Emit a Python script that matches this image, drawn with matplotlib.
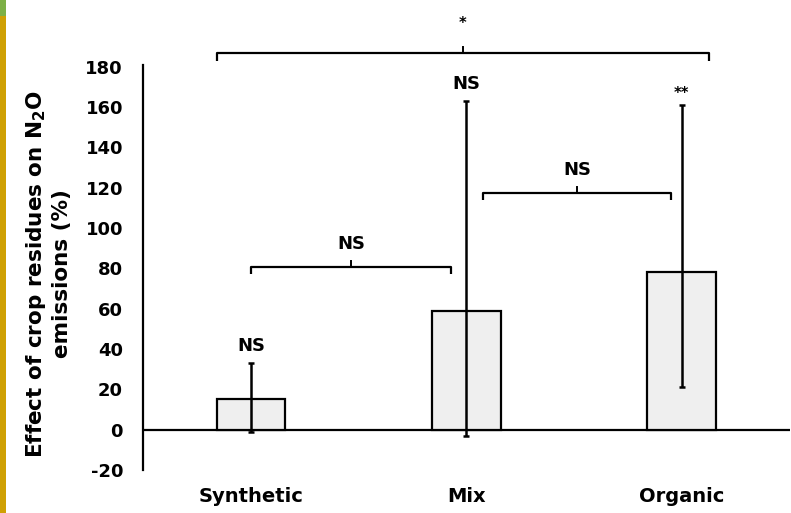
import matplotlib
matplotlib.use("Agg")
import matplotlib.pyplot as plt
from matplotlib.patches import Rectangle

plt.rcParams['font.family'] = ['DejaVu Sans']
plt.rcParams['mathtext.fontset'] = 'dejavusans'

categories = ["Synthetic", "Mix", "Organic"]
means = [15, 59, 78]
ci_low = [-1, -3, 21]
ci_high = [33, 163, 161]
bar_labels = ["NS", "NS", "**"]
yticks = [-20, 0, 20, 40, 60, 80, 100, 120, 140, 160, 180]

# brackets: (left x, right x, y, label)
brackets = [(0.0, 0.93, 80.5, "NS"), (1.08, 1.95, 117.5, "NS"), (-0.16, 2.13, 186.5, "*")]

W, H = 791, 513
fig = plt.figure(figsize=(W / 100, H / 100), dpi=100)
fig.patches.append(Rectangle((0, 0), 6 / W, 1, transform=fig.transFigure,
                             facecolor="#CFA004", edgecolor="none", zorder=0))
fig.patches.append(Rectangle((0, 1 - 16 / H), 6 / W, 16 / H, transform=fig.transFigure,
                             facecolor="#7DB046", edgecolor="none", zorder=1))

ax = fig.add_axes([142.5 / W, 1 - 470 / H, 647.5 / W, 470 / H])
x = list(range(len(categories)))
ax.bar(x, means, width=0.32, color="#EFEFEF", edgecolor="black", linewidth=1.6, zorder=2)
yerr = [[m - l for m, l in zip(means, ci_low)], [h - m for m, h in zip(means, ci_high)]]
ax.errorbar(x, means, yerr=yerr, fmt="none", ecolor="black", elinewidth=1.8,
            capsize=2, capthick=1.8, zorder=3)
ax.axhline(0, color="black", linewidth=1.6, zorder=1)

FS = 13
for xi, h, lab in zip(x, ci_high, bar_labels):
    if lab == "NS":
        ax.text(xi, h + 4, lab, ha="center", va="bottom", fontsize=FS, fontweight="bold")
    else:
        ax.text(xi, h + 2, lab, ha="center", va="bottom", fontsize=10.5, fontweight="bold")

for x0, x1, y, lab in brackets:
    ax.plot([x0, x0, x1, x1], [y - 3.5, y, y, y - 3.5], color="black", linewidth=1.6,
            solid_capstyle="butt", zorder=3)
    xm = (x0 + x1) / 2
    ax.plot([xm, xm], [y, y + 3], color="black", linewidth=1.4, zorder=3)
    fs = FS if lab == "NS" else 10.5
    ax.text(xm, y + 7 if lab == "NS" else y + 11, lab, ha="center", va="bottom",
            fontsize=fs, fontweight="bold")

ax.set_xlim(-0.504, 2.504)
ax.set_ylim(-20, 213)
ax.set_yticks(yticks)
ax.set_yticklabels([str(t) for t in yticks], fontsize=FS, fontweight="bold")
ax.set_xticks(x)
ax.set_xticklabels(categories, fontsize=14, fontweight="bold")
ax.tick_params(axis="y", length=0, pad=14)
ax.tick_params(axis="x", length=0, pad=12)
for s in ["top", "right", "bottom"]:
    ax.spines[s].set_visible(False)
ax.spines["left"].set_bounds(-20, 181)
ax.spines["left"].set_linewidth(1.6)
ax.set_facecolor("none")

fig.text(48 / W, 1 - 274 / H, "Effect of crop residues on N$_\\mathbf{2}$O\nemissions (%)",
         rotation=90, ha="center", va="center", fontsize=15.5, fontweight="bold",
         linespacing=1.3)

fig.savefig("out.png", dpi=100)
